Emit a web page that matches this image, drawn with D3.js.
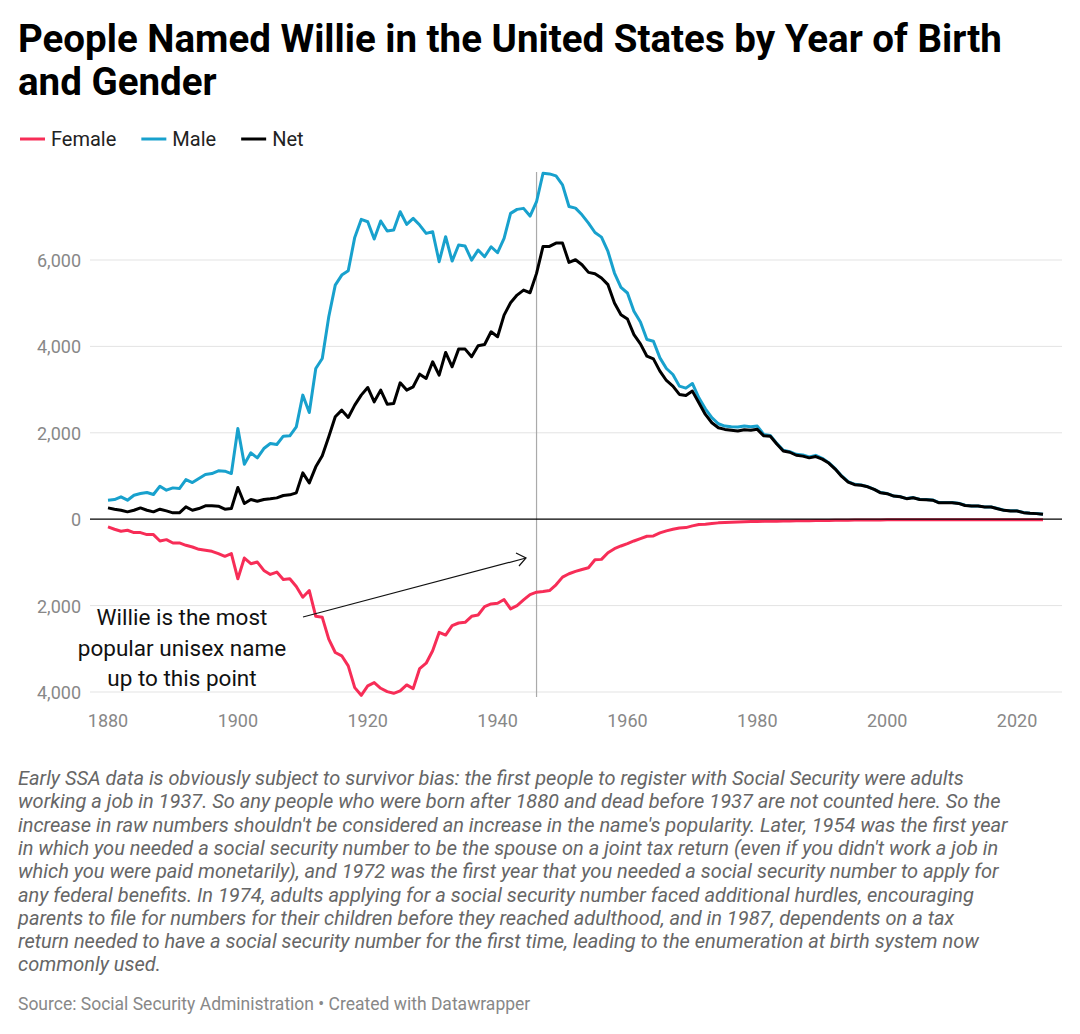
<!DOCTYPE html>
<html>
<head>
<meta charset="utf-8">
<script src="https://cdn.jsdelivr.net/npm/d3@7"></script>
<style>
  body { margin: 0; background: #fff; font-family: Roboto, sans-serif; }
  svg { display: block; }
</style>
</head>
<body>
<svg id="chart" width="1080" height="1034"></svg>
<script>
// years 1880 - 2024
var startYear = 1880;

var male = [440, 455, 517, 440, 555, 594, 617, 571, 764, 671, 725, 710, 918, 849, 941, 1034, 1057, 1119, 1111, 1057,
  2100, 1273, 1536, 1420, 1636, 1752, 1729, 1922, 1930, 2138, 2872, 2470, 3489, 3721, 4686, 5419, 5651, 5751, 6523, 6940,
  6886, 6485, 6902, 6670, 6693, 7118, 6824, 6963, 6809, 6616, 6655, 5960, 6539, 5975, 6346, 6323, 5998, 6230, 6076, 6307,
  6168, 6500, 7079, 7172, 7195, 7017, 7349,
  8008, 7993, 7946, 7738, 7238, 7200, 7046, 6853, 6637, 6530, 6198, 5698, 5367, 5236, 4812, 4566, 4158, 4120, 3734, 3488,
  3350, 3080, 3034, 3142, 2810, 2556, 2349, 2210, 2156, 2141, 2133, 2156, 2141, 2156, 1963, 1940, 1756, 1594, 1563, 1502,
  1486, 1440, 1478, 1409, 1309, 1170, 1001, 870, 808, 793, 755, 693, 616, 593, 539, 524, 477, 500, 462, 455,
  447, 385, 385, 385, 370, 323, 308, 308, 285, 285, 246, 208, 193, 193, 154, 139, 131, 116];

var female = [178, 232, 279, 256, 310, 310, 356, 356, 504, 473, 550, 550, 604, 643, 697, 720, 744, 798, 860, 798,
  1380, 899, 1030, 992, 1186, 1279, 1224, 1395, 1380, 1558, 1806, 1651, 2248, 2271, 2775, 3085, 3162, 3395, 3898, 4077,
  3860, 3782, 3914, 3991, 4030, 3976, 3836, 3922, 3457, 3333, 3046, 2620, 2682, 2465, 2403, 2387, 2248, 2217, 2023, 1961,
  1945, 1860, 2077, 2000, 1868, 1744, 1690, 1674, 1651, 1519, 1341, 1263, 1209, 1163, 1124, 938, 930, 775, 682, 620,
  566, 504, 450, 395, 388, 318, 271, 232, 202, 194, 155, 124, 116, 101, 85, 78, 70, 62, 58, 55,
  52, 50, 48, 45, 42, 40, 38, 36, 34, 32, 30, 28, 26, 24, 22, 20, 19, 18, 17, 16,
  15, 15, 14, 14, 13, 13, 12, 12, 12, 11, 11, 11, 10, 10, 10, 10, 10, 10, 10, 10,
  10, 10, 10, 10, 10];

var net = [262, 232, 208, 170, 208, 262, 208, 170, 232, 193, 147, 147, 286, 208, 247, 309, 309, 301, 232, 247,
  733, 363, 455, 417, 455, 471, 494, 548, 564, 610, 1073, 841, 1212, 1467, 1907, 2370, 2524, 2355, 2640, 2872,
  3049, 2717, 2988, 2663, 2679, 3157, 2988, 3065, 3358, 3258, 3644, 3335, 3860, 3528, 3937, 3937, 3760, 4014, 4045, 4339,
  4223, 4725, 5010, 5188, 5304, 5242, 5690,
  6314, 6314, 6391, 6391, 5944, 6006, 5890, 5713, 5683, 5583, 5429, 5005, 4735, 4635, 4274, 4058, 3773, 3711, 3427, 3211,
  3080, 2888, 2864, 2965, 2695, 2426, 2233, 2118, 2079, 2060, 2041, 2070, 2060, 2080, 1930, 1920, 1740, 1580, 1550, 1480,
  1460, 1420, 1450, 1390, 1300, 1160, 990, 860, 800, 785, 750, 690, 610, 590, 535, 520, 475, 495, 455, 448,
  440, 380, 380, 380, 365, 318, 305, 305, 282, 282, 243, 205, 190, 190, 152, 137, 129, 114];

var yTicks = [-4000, -2000, 0, 2000, 4000, 6000];
var xTicks = [1880, 1900, 1920, 1940, 1960, 1980, 2000, 2020];

var legendItems = [
  { name: "Female", color: "#f72d57" },
  { name: "Male", color: "#18a1cd" },
  { name: "Net", color: "#000000" }
];

var noteLines = [
  "Early SSA data is obviously subject to survivor bias: the first people to register with Social Security were adults",
  "working a job in 1937. So any people who were born after 1880 and dead before 1937 are not counted here. So the",
  "increase in raw numbers shouldn't be considered an increase in the name's popularity. Later, 1954 was the first year",
  "in which you needed a social security number to be the spouse on a joint tax return (even if you didn't work a job in",
  "which you were paid monetarily), and 1972 was the first year that you needed a social security number to apply for",
  "any federal benefits. In 1974, adults applying for a social security number faced additional hurdles, encouraging",
  "parents to file for numbers for their children before they reached adulthood, and in 1987, dependents on a tax",
  "return needed to have a social security number for the first time, leading to the enumeration at birth system now",
  "commonly used."
];

var svg = d3.select("#chart");

// title
svg.append("text").attr("x", 18).attr("y", 52)
  .style("font-size", "38.5px").style("font-weight", 700)
  .text("People Named Willie in the United States by Year of Birth");
svg.append("text").attr("x", 18).attr("y", 95)
  .style("font-size", "38.5px").style("font-weight", 700)
  .text("and Gender");

// legend
var lx = 20;
legendItems.forEach(function (d) {
  svg.append("line").attr("x1", lx).attr("x2", lx + 25).attr("y1", 139).attr("y2", 139)
    .attr("stroke", d.color).attr("stroke-width", 3);
  var t = svg.append("text").attr("x", lx + 31).attr("y", 146)
    .style("font-size", "20px").attr("fill", "#222").text(d.name);
  lx += 31 + t.node().getComputedTextLength() + 25;
});

var x = d3.scaleLinear().domain([1880, 2024]).range([108, 1043]);
var y = d3.scaleLinear().domain([-4000, 6000]).range([692, 260]);

// grid + y labels
var grid = svg.append("g");
yTicks.forEach(function (t) {
  if (t !== 0) {
    grid.append("line").attr("x1", 90).attr("x2", 1062).attr("y1", y(t)).attr("y2", y(t))
      .attr("stroke", "#e3e3e3").attr("stroke-width", 1);
  }
  grid.append("text").attr("x", 81).attr("y", y(t) + 7).attr("text-anchor", "end")
    .style("font-size", "18px").attr("fill", "#888")
    .text(d3.format(",")(Math.abs(t)));
});

// x labels
xTicks.forEach(function (t) {
  svg.append("text").attr("x", x(t)).attr("y", 727).attr("text-anchor", "middle")
    .style("font-size", "18px").attr("fill", "#888").text(t);
});

// vertical marker at 1946
svg.append("line").attr("x1", x(1946)).attr("x2", x(1946)).attr("y1", 172).attr("y2", 697)
  .attr("stroke", "#aaa").attr("stroke-width", 1.2);

var line = d3.line()
  .x(function (d, i) { return x(startYear + i); })
  .y(function (d) { return y(d); });

svg.append("path").datum(female.map(function (v) { return -v; }))
  .attr("d", line).attr("fill", "none").attr("stroke", legendItems[0].color).attr("stroke-width", 3)
  .attr("stroke-linejoin", "round");
svg.append("path").datum(male)
  .attr("d", line).attr("fill", "none").attr("stroke", legendItems[1].color).attr("stroke-width", 3)
  .attr("stroke-linejoin", "round");
svg.append("path").datum(net)
  .attr("d", line).attr("fill", "none").attr("stroke", "#000").attr("stroke-width", 3)
  .attr("stroke-linejoin", "round");

// zero line
svg.append("line").attr("x1", 90).attr("x2", 1062).attr("y1", y(0)).attr("y2", y(0))
  .attr("stroke", "#000").attr("stroke-width", 1.3);

// annotation
var ann = ["Willie is the most", "popular unisex name", "up to this point"];
ann.forEach(function (s, i) {
  svg.append("text").attr("x", 182).attr("y", 625 + i * 30.5).attr("text-anchor", "middle")
    .style("font-size", "22.5px").attr("fill", "#111").text(s);
});
svg.append("line").attr("x1", 303).attr("y1", 617).attr("x2", 526).attr("y2", 558)
  .attr("stroke", "#111").attr("stroke-width", 1.2);
svg.append("path").attr("d", "M516,553 L526,558 L519,566")
  .attr("fill", "none").attr("stroke", "#111").attr("stroke-width", 1.2);

// notes
noteLines.forEach(function (s, i) {
  svg.append("text").attr("x", 18).attr("y", 785 + i * 23.3)
    .style("font-size", "20px").style("font-style", "italic").attr("fill", "#666").text(s);
});
svg.append("text").attr("x", 18).attr("y", 1010)
  .style("font-size", "17.5px").attr("fill", "#888")
  .text("Source: Social Security Administration \u2022 Created with Datawrapper");
</script>
</body>
</html>
